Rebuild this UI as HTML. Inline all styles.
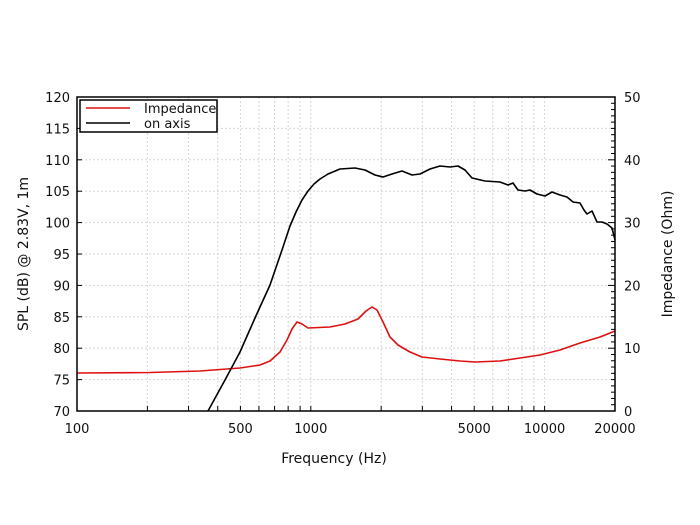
<!DOCTYPE html>
<html><head><style>body{margin:0;background:#fff}svg{display:block}text{font-family:"DejaVu Sans","Liberation Sans",sans-serif;font-size:13px;fill:#111}</style></head><body>
<svg id="s" width="700" height="525" xmlns="http://www.w3.org/2000/svg">
<g id="grid" stroke="#d6d6d6" stroke-width="1" stroke-dasharray="2,2"></g>
<polyline fill="none" stroke="#d11" stroke-width="1.6" stroke-linejoin="round" points="77,373 150,372.5 200,371 240,368 260,365 270,361 280,352 287,340 292,329 297,322 302,324 308,328 330,327 345,324 358,319 366,311 372,307 377,310 383,322 390,337 398,345 410,352 422,357 440,359 460,361 475,362 500,361 520,358 540,355 560,350 580,343 600,337 615,331"/>
<polyline fill="none" stroke="#000" stroke-width="1.6" stroke-linejoin="round" points="208,411 225,380 240,352 255,318 270,285 282,250 290,226 296,212 302,200 308,191 314,184 320,179 328,174 340,169 355,168 365,170 375,175 383,177 392,174 402,171 412,175 420,174 430,169 440,166 450,167 458,166 465,170 472,178 485,181 500,182 508,185 513,183 518,190 525,191 530,190 537,194 545,196 552,192 560,195 567,197 573,202 580,203 584,210 587,214 592,211 597,222 602,222 607,224 612,228 615,240"/>
<rect x="77" y="97" width="538" height="314" fill="none" stroke="#000" stroke-width="1.5"/>
<g id="lab"></g>
<rect x="80" y="100" width="137" height="32" fill="#fff" stroke="#000" stroke-width="1.5"/>
<line x1="86" y1="108" x2="130" y2="108" stroke="#d11" stroke-width="1.6"/>
<line x1="86" y1="123" x2="130" y2="123" stroke="#000" stroke-width="1.6"/>
<text x="144" y="113">Impedance</text><text x="144" y="128">on axis</text>
<text x="334" y="463" text-anchor="middle" style="font-size:14px">Frequency (Hz)</text>
<text transform="translate(28,254) rotate(-90)" text-anchor="middle" style="font-size:14px">SPL (dB) @ 2.83V, 1m</text>
<text transform="translate(672,254) rotate(-90)" text-anchor="middle" style="font-size:14px">Impedance (Ohm)</text>
</svg>
<script>
var g=document.getElementById('grid'),L=document.getElementById('lab'),ns='http://www.w3.org/2000/svg';
function el(p,t,a,txt){var e=document.createElementNS(ns,t);for(var k in a)e.setAttribute(k,a[k]);if(txt!=null)e.textContent=txt;p.appendChild(e);}
function X(f){return 77+Math.log10(f/100)*233.8;}
[200,300,400,500,600,700,800,900,1000,2000,3000,4000,5000,6000,7000,8000,9000,10000].forEach(function(f){var x=X(f);el(g,'line',{x1:x,y1:97,x2:x,y2:411});el(L,'line',{x1:x,y1:411,x2:x,y2:406,stroke:'#000'});});
for(var i=1;i<10;i++){var y=411-i*31.4;el(g,'line',{x1:77,y1:y,x2:615,y2:y});}
for(var i=0;i<=10;i++){var y=411-i*31.4;el(L,'text',{x:70,y:y+5,'text-anchor':'end'},70+5*i);el(L,'line',{x1:77,y1:y,x2:82,y2:y,stroke:'#000'});}
for(var i=0;i<=5;i++){var y=411-i*62.8;el(L,'text',{x:624,y:y+5},i*10);}
for(var i=0;i<=50;i++){var y=411-i*6.28;el(L,'line',{x1:615,y1:y,x2:i%10?611:608,y2:y,stroke:'#000'});}
[[100,'100'],[500,'500'],[1000,'1000'],[5000,'5000'],[10000,'10000'],[20000,'20000']].forEach(function(a){el(L,'text',{x:X(a[0]),y:433,'text-anchor':'middle'},a[1]);});
</script>
</body></html>
